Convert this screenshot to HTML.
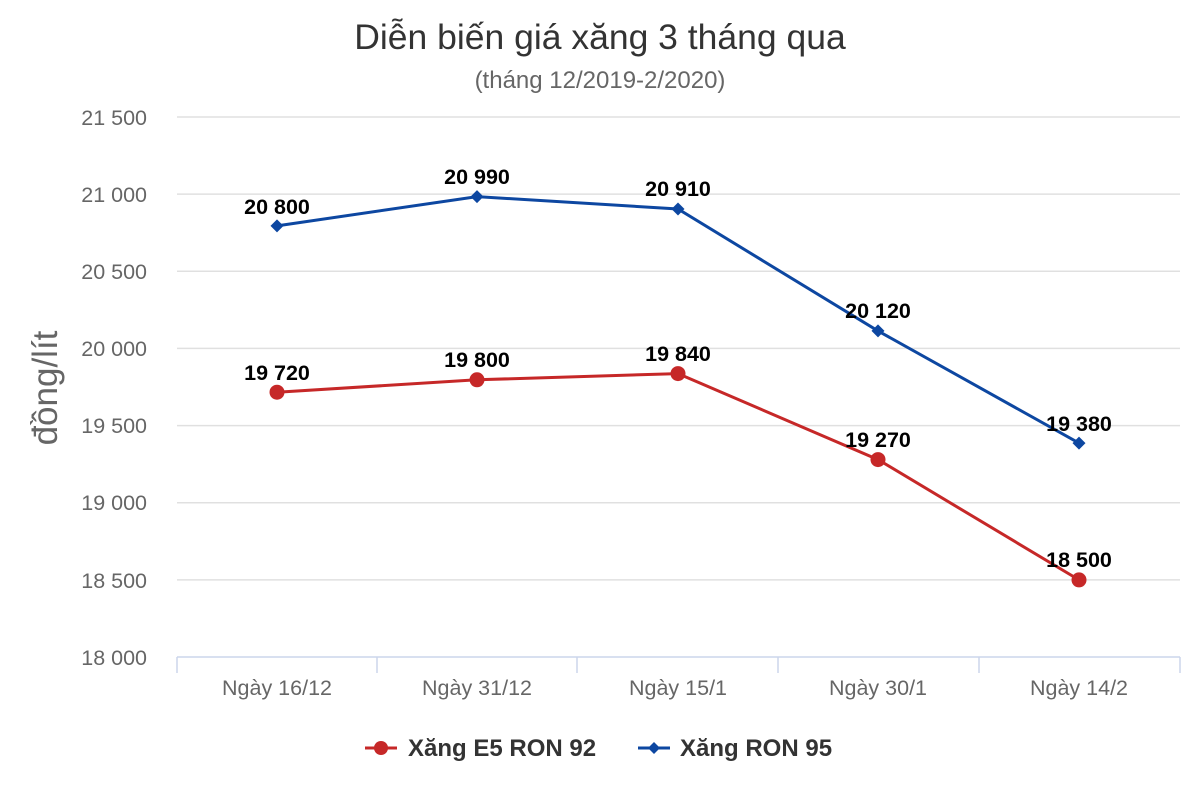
<!DOCTYPE html>
<html><head><meta charset="utf-8"><style>body{margin:0;background:#fff}svg{display:block}</style></head><body>
<svg width="1200" height="800" xmlns="http://www.w3.org/2000/svg" font-family="Liberation Sans, sans-serif">
<rect width="1200" height="800" fill="#fff"/>
<text x="600" y="49" text-anchor="middle" font-size="35.5" fill="#333">Diễn biến giá xăng 3 tháng qua</text>
<text x="600" y="88" text-anchor="middle" font-size="24" fill="#666">(tháng 12/2019-2/2020)</text>
<g stroke="#e0e0e0" stroke-width="1.5">
<line x1="177" x2="1180" y1="117" y2="117"/><line x1="177" x2="1180" y1="194.1" y2="194.1"/>
<line x1="177" x2="1180" y1="271.3" y2="271.3"/><line x1="177" x2="1180" y1="348.4" y2="348.4"/>
<line x1="177" x2="1180" y1="425.6" y2="425.6"/><line x1="177" x2="1180" y1="502.7" y2="502.7"/>
<line x1="177" x2="1180" y1="579.9" y2="579.9"/>
</g>
<g stroke="#ccd6eb" stroke-width="1.5">
<line x1="177" x2="1180" y1="657" y2="657"/>
<line x1="177" x2="177" y1="657" y2="673"/><line x1="377" x2="377" y1="657" y2="673"/>
<line x1="577" x2="577" y1="657" y2="673"/><line x1="778" x2="778" y1="657" y2="673"/>
<line x1="979" x2="979" y1="657" y2="673"/><line x1="1180" x2="1180" y1="657" y2="673"/>
</g>
<g font-size="21.5" fill="#666" text-anchor="end">
<text x="147" y="125">21 500</text><text x="147" y="202">21 000</text><text x="147" y="279">20 500</text>
<text x="147" y="356">20 000</text><text x="147" y="433">19 500</text><text x="147" y="510">19 000</text>
<text x="147" y="588">18 500</text><text x="147" y="665">18 000</text>
</g>
<text transform="translate(57,388) rotate(-90)" text-anchor="middle" font-size="35" fill="#666">đồng/lít</text>
<g font-size="21.5" fill="#666" text-anchor="middle">
<text x="277" y="695">Ngày 16/12</text><text x="477" y="695">Ngày 31/12</text><text x="678" y="695">Ngày 15/1</text>
<text x="878" y="695">Ngày 30/1</text><text x="1079" y="695">Ngày 14/2</text>
</g>
<polyline points="277,225.9 477,196.6 678,209 878,330.9 1079,443.1" fill="none" stroke="#0d47a1" stroke-width="3"/>
<g fill="#0d47a1">
<path d="M277,219.4l6.5,6.5-6.5,6.5-6.5-6.5z"/><path d="M477,190.1l6.5,6.5-6.5,6.5-6.5-6.5z"/><path d="M678,202.5l6.5,6.5-6.5,6.5-6.5-6.5z"/>
<path d="M878,324.4l6.5,6.5-6.5,6.5-6.5-6.5z"/><path d="M1079,436.6l6.5,6.5-6.5,6.5-6.5-6.5z"/>
</g>
<polyline points="277,392.2 477,379.8 678,373.6 878,459.6 1079,579.9" fill="none" stroke="#c62828" stroke-width="3"/>
<g fill="#c62828">
<circle cx="277" cy="392.2" r="7.5"/><circle cx="477" cy="379.8" r="7.5"/><circle cx="678" cy="373.6" r="7.5"/>
<circle cx="878" cy="459.6" r="7.5"/><circle cx="1079" cy="579.9" r="7.5"/>
</g>
<g font-size="21.5" font-weight="bold" fill="#000" text-anchor="middle">
<text x="277" y="214">20 800</text><text x="477" y="184">20 990</text><text x="678" y="196">20 910</text>
<text x="878" y="318">20 120</text><text x="1079" y="431">19 380</text>
<text x="277" y="380">19 720</text><text x="477" y="367">19 800</text><text x="678" y="361">19 840</text>
<text x="878" y="447">19 270</text><text x="1079" y="567">18 500</text>
</g>
<line x1="365" x2="397" y1="748" y2="748" stroke="#c62828" stroke-width="3"/>
<circle cx="381" cy="748" r="7" fill="#c62828"/>
<text x="408" y="756" font-size="24" font-weight="bold" fill="#333">Xăng E5 RON 92</text>
<line x1="638" x2="670" y1="748" y2="748" stroke="#0d47a1" stroke-width="3"/>
<path d="M654,742l6,6-6,6-6-6z" fill="#0d47a1"/>
<text x="680" y="756" font-size="24" font-weight="bold" fill="#333">Xăng RON 95</text>
</svg>
</body></html>
